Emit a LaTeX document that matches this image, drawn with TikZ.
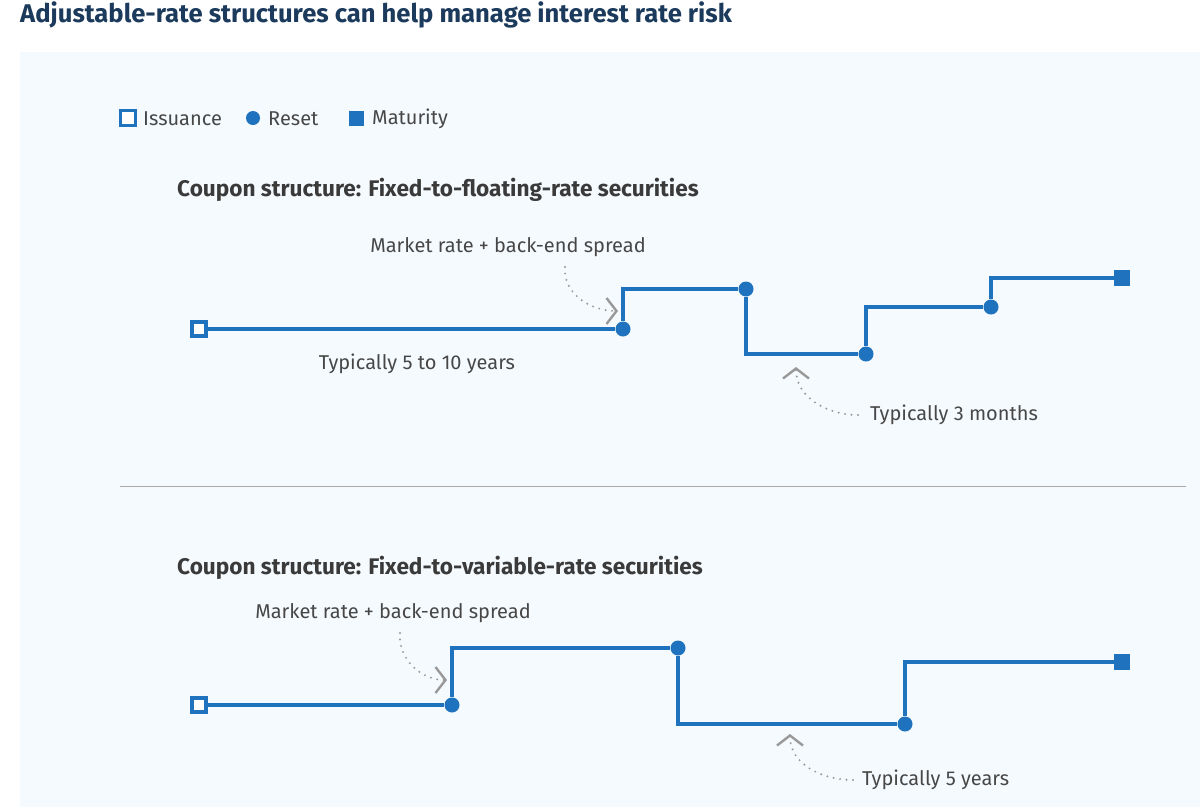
\documentclass[tikz,border=0pt]{standalone}
\usepackage{fontspec}
\setmainfont{Fira Sans}
\usetikzlibrary{arrows.meta}
\definecolor{bgpanel}{HTML}{F5FAFE}
\definecolor{lineblue}{HTML}{1F72BD}
\definecolor{titlecol}{HTML}{1B3A5C}
\definecolor{txt}{HTML}{474747}
\definecolor{subcol}{HTML}{3A3A3A}
\definecolor{annot}{HTML}{999999}
\definecolor{sepcol}{HTML}{AAAAAA}
\begin{document}
\begin{tikzpicture}[x=1pt,y=-1pt,
 rate/.style={draw=lineblue,line width=3.5pt},
 issue/.style={rectangle,draw=lineblue,fill=white,line width=3.2pt,minimum size=14pt,inner sep=0pt},
 resetpt/.style={circle,fill=lineblue,minimum size=15pt,inner sep=0pt},
 maturepoint/.style={rectangle,fill=lineblue,minimum size=16pt,inner sep=0pt},
 lbl/.style={text=txt,font=\fontsize{20}{24}\selectfont,inner sep=0pt},
 subttl/.style={text=subcol,font=\bfseries\fontsize{22.6}{27}\selectfont,anchor=west,inner sep=0pt},
 pointer/.style={draw=annot,line width=2.2pt,dash pattern=on 0pt off 6.5pt,line cap=round,-{Straight Barb[length=10pt,width=26pt,line width=2.4pt]}}]
\useasboundingbox (0,0) rectangle (1200,807);
\fill[white] (0,0) rectangle (1200,807);
\fill[bgpanel] (20,52) rectangle (1200,807);
% title
\node[anchor=west,inner sep=0pt,text=titlecol,font=\bfseries\fontsize{25.6}{30}\selectfont] (title) at (20,15) {Adjustable-rate structures can help manage interest rate risk};
% legend
\node[issue,line width=3pt,minimum size=15pt] (legi) at (128,118) {};
\node[lbl,anchor=west] (legit) at (143,119) {Issuance};
\node[resetpt,minimum size=14pt] (legr) at (253,118) {};
\node[lbl,anchor=west] (legrt) at (268,119) {Reset};
\node[maturepoint,minimum size=15pt] (legm) at (356,118) {};
\node[lbl,anchor=west] (legmt) at (372,119) {Maturity};
% chart 1
\node[subttl] (sub1) at (177,190) {Coupon structure: Fixed-to-floating-rate securities};
\node[issue] (i1) at (199,329) {};
\node[resetpt] (r1) at (623,329) {};
\node[resetpt] (r2) at (746,289) {};
\node[resetpt] (r3) at (866,354) {};
\node[resetpt] (r4) at (991,307) {};
\node[maturepoint] (m1) at (1122,278) {};
\draw[rate] (i1) -- (r1);
\draw[rate] (r1) |- (r2);
\draw[rate] (r2) |- (r3);
\draw[rate] (r3) |- (r4);
\draw[rate] (r4) |- (m1);
\node[lbl] (a1) at (508,247) {Market rate + back-end spread};
\node[lbl] (a2) at (417,364) {Typically 5 to 10 years};
\node[lbl,anchor=west] (a3) at (870,415) {Typically 3 months};
\coordinate (p1s) at (565,267);
\coordinate (p1e) at (618,311);
\draw[pointer] (p1s) to[out=-95,in=180] (p1e);
\coordinate (p2s) at (858,415);
\coordinate (p2e) at (796,367);
\draw[pointer] (p2s) to[out=180,in=-90] (p2e);
% separator
\coordinate (sepl) at (120,486);
\coordinate (sepr) at (1186,486);
\draw[sepcol,line width=1pt] (sepl) -- (sepr);
% chart 2
\node[subttl] (sub2) at (177,568) {Coupon structure: Fixed-to-variable-rate securities};
\node[issue] (i2) at (199,705) {};
\node[resetpt] (r5) at (452,705) {};
\node[resetpt] (r6) at (678,648) {};
\node[resetpt] (r7) at (905,724) {};
\node[maturepoint] (m2) at (1122,662) {};
\draw[rate] (i2) -- (r5);
\draw[rate] (r5) |- (r6);
\draw[rate] (r6) |- (r7);
\draw[rate] (r7) |- (m2);
\node[lbl] (b1) at (393,613) {Market rate + back-end spread};
\node[lbl,anchor=west] (b2) at (862,780) {Typically 5 years};
\coordinate (q1s) at (400,633);
\coordinate (q1e) at (447,680);
\draw[pointer] (q1s) to[out=-95,in=180] (q1e);
\coordinate (q2s) at (853,780);
\coordinate (q2e) at (790,734);
\draw[pointer] (q2s) to[out=180,in=-90] (q2e);
\end{tikzpicture}
\end{document}
